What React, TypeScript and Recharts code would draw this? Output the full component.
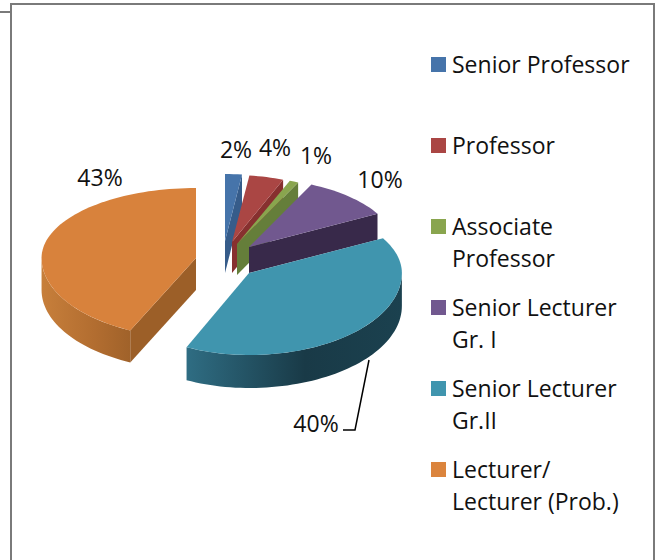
import React from "react";
import { PieChart, Pie, Cell, Legend } from "recharts";

const categories = ["Senior Professor", "Professor", "Associate Professor", "Senior Lecturer Gr. I", "Senior Lecturer Gr.II", "Lecturer/ Lecturer (Prob.)"];
const shares = [2, 4, 1, 10, 40, 43];
const percentLabels = ["2%", "4%", "1%", "10%", "40%", "43%"];
const legendLines = [["Senior Professor"], ["Professor"], ["Associate", "Professor"], ["Senior Lecturer", "Gr. I"], ["Senior Lecturer", "Gr.II"], ["Lecturer/", "Lecturer (Prob.)"]];

const topColors = ["#4674aa", "#aa4644", "#89a54e", "#71588f", "#4095ae", "#d8823c"];
const faceColors = ["#365c8a", "#87302f", "#657e3a", "#38294a", "#1b3f4d", "#9c5f28"];
const legendColors = ["#4674aa", "#aa4644", "#89a54e", "#71588f", "#4095ae", "#db843d"];

const FONT = "'Open Sans', sans-serif";
const LEGEND_SIZE = 23;
const LABEL_SIZE = 23;
const CX = 225;
const CY = 260;
const R = 156;
// layout of the exploded slices: apex offset from the pie centre, horizontal scale, extrusion depth
const offsetX = [0, 7, 12, 24, 24, -29];
const offsetY = [-19, -18, -16, -13, 13, -2];
const rxScale = [0.87, 0.89, 0.92, 0.94, 0.98, 1.0];
const rxLeftScale = [0.87, 0.89, 0.92, 0.94, 0.94, 0.99];
const backRy = [67, 67, 68, 69, 72, 70];
const frontRy = [80, 80, 80, 80, 82, 80];
const depth = [32, 31, 31, 26, 33, 32];
const labelX = [236, 275, 316, 380, 316, 100];
const labelY = [149, 147, 155, 179, 423, 177];

const Slice3D = (props: any) => {
  const name = props.payload?.name ?? props.name;
  const i = categories.indexOf(name);
  const s = 90 - props.startAngle;
  const e = 90 - props.endAngle;
  const ax = props.cx + offsetX[i];
  const ay = props.cy + offsetY[i];
  const pt = (deg: number): [number, number] => {
    const a = (deg * Math.PI) / 180;
    const c = Math.cos(a);
    const sn = Math.sin(a);
    const rx = props.outerRadius * (sn >= 0 ? rxScale[i] : rxLeftScale[i]);
    return [ax + rx * sn, ay - (c >= 0 ? backRy[i] : frontRy[i]) * c];
  };
  const arc = (from: number, to: number) => {
    const out: [number, number][] = [];
    const n = Math.max(2, Math.ceil(Math.abs(to - from) / 2));
    for (let k = 0; k <= n; k++) out.push(pt(from + ((to - from) * k) / n));
    return out;
  };
  const path = (p: [number, number][]) => "M" + p.map((q) => q[0].toFixed(2) + "," + q[1].toFixed(2)).join("L") + "Z";
  const d = depth[i];
  const down = (p: [number, number][]) => p.map((q) => [q[0], q[1] + d] as [number, number]);
  const parts: React.ReactNode[] = [];
  if (e < 180) {
    const q = pt(e);
    parts.push(<path key="end" d={path([[ax, ay], q, [q[0], q[1] + d], [ax, ay + d]])} fill={faceColors[i]} />);
  }
  if (s > 180) {
    const q = pt(s);
    parts.push(<path key="start" d={path([[ax, ay], q, [q[0], q[1] + d], [ax, ay + d]])} fill={faceColors[i]} />);
  }
  const ws = Math.max(s, 90);
  const we = Math.min(e, 270);
  if (we > ws) {
    const top = arc(ws, we);
    parts.push(<path key="wall" d={path([...top, ...down(top).reverse()])} fill={`url(#wall${i})`} />);
  }
  parts.push(<path key="top" d={path([[ax, ay], ...arc(s, e)])} fill={topColors[i]} />);
  return <g>{parts}</g>;
};

const renderLabel = (props: any) => {
  const i = props.index;
  return (
    <g>
      {i === 4 && <polyline points="369,360 355,430 343,430" fill="none" stroke="#000" strokeWidth={1.5} />}
      <text x={labelX[i]} y={labelY[i]} textAnchor="middle" dominantBaseline="central" fontFamily={FONT} fontSize={LABEL_SIZE} fill="#111">
        {percentLabels[i]}
      </text>
    </g>
  );
};

const renderLegend = () => (
  <div style={{ position: "relative", width: 230, height: 520, fontFamily: FONT, fontSize: LEGEND_SIZE, color: "#111" }}>
    {categories.map((c, i) => (
      <div key={c} style={{ position: "absolute", top: i * 81, left: 0, height: 62 }}>
        <div style={{ position: "absolute", left: 0, top: 10, width: 15, height: 15, background: legendColors[i] }} />
        {legendLines[i].map((line, j) => (
          <div key={line} style={{ position: "absolute", left: 21, top: j * 31.5, lineHeight: "35px", whiteSpace: "nowrap" }}>
            {line}
          </div>
        ))}
      </div>
    ))}
  </div>
);

const chartData = categories.map((name, i) => ({ name, value: shares[i] }));

export default function App() {
  return (
    <div style={{ position: "absolute", left: 0, top: 0, width: 661, height: 560, background: "#fff", overflow: "hidden" }}>
      <div style={{ position: "absolute", left: 10, top: 3, width: 645, height: 600, border: "2px solid #7a7a7a", boxSizing: "border-box" }} />
      <div style={{ position: "absolute", left: 0, top: 11, width: 10, height: 2, background: "#7a7a7a" }} />
      <div style={{ position: "absolute", left: 0, top: 0 }}>
        <PieChart width={661} height={560} margin={{ top: 0, right: 0, bottom: 0, left: 0 }}>
          <defs>
            <linearGradient id="wall4" x1="0" y1="0" x2="1" y2="0">
              <stop offset="0" stopColor="#2f6d83" />
              <stop offset="0.55" stopColor="#193a47" />
              <stop offset="1" stopColor="#1b414f" />
            </linearGradient>
            <linearGradient id="wall5" x1="0" y1="0" x2="1" y2="0">
              <stop offset="0" stopColor="#c77f3b" />
              <stop offset="0.6" stopColor="#b26d30" />
              <stop offset="1" stopColor="#a0622a" />
            </linearGradient>
            {[0, 1, 2, 3].map((i) => (
              <linearGradient key={i} id={`wall${i}`}>
                <stop offset="0" stopColor={faceColors[i]} />
              </linearGradient>
            ))}
          </defs>
          <Pie
            data={chartData}
            dataKey="value"
            nameKey="name"
            cx={CX}
            cy={CY}
            outerRadius={R}
            startAngle={90}
            endAngle={-270}
            stroke="none"
            isAnimationActive={false}
            shape={Slice3D}
            label={renderLabel}
            labelLine={false}
          >
            {categories.map((c, i) => (
              <Cell key={c} fill={topColors[i]} />
            ))}
          </Pie>
          <Legend
            content={renderLegend}
            wrapperStyle={{ position: "absolute", left: 431, top: 47, width: 230, height: 520 }}
          />
        </PieChart>
      </div>
    </div>
  );
}
